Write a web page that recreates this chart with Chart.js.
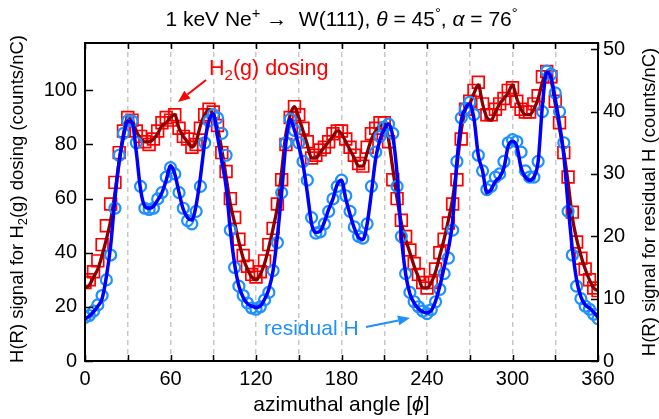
<!DOCTYPE html>
<html>
<head>
<meta charset="utf-8">
<script src="https://cdn.jsdelivr.net/npm/chart.js@4.4.1/dist/chart.umd.min.js"></script>
<style>
  html, body { margin: 0; padding: 0; background: #fff; }
  #wrap { width: 659px; height: 419px; }
</style>
</head>
<body>
<div id="wrap"><canvas id="azChart" width="659" height="419"></canvas></div>
<script>
  // azimuthal angle (deg)
  const angles = [
    0, 3, 6, 9, 12, 15, 18, 21, 24, 27,
    30, 33, 36, 39, 42, 45, 48, 51, 54, 57,
    60, 63, 66, 69, 72, 75, 78, 81, 84, 87,
    90, 93, 96, 99, 102, 105, 108, 111, 114, 117,
    120, 123, 126, 129, 132, 135, 138, 141, 144, 147,
    150, 153, 156, 159, 162, 165, 168, 171, 174, 177,
    180, 183, 186, 189, 192, 195, 198, 201, 204, 207,
    210, 213, 216, 219, 222, 225, 228, 231, 234, 237,
    240, 243, 246, 249, 252, 255, 258, 261, 264, 267,
    270, 273, 276, 279, 282, 285, 288, 291, 294, 297,
    300, 303, 306, 309, 312, 315, 318, 321, 324, 327,
    330, 333, 336, 339, 342, 345, 348, 351, 354, 357,
    360
  ];

  // H(R) signal, H2(g) dosing (left axis) - measured
  const h2Dosing = [
    29, 30, 33, 37, 43, 50, 58, 66, 77, 85,
    90, 89, 85, 83, 81, 80, 82, 85, 88, 90,
    89, 91, 86, 83, 82, 79, 80, 86, 91, 93,
    92, 87, 77, 70, 60, 53, 45, 39, 35, 32,
    31, 33, 37, 43, 49, 58, 67, 80, 90, 94,
    91, 86, 81, 75, 76, 78, 79, 81, 84, 85,
    85, 82, 79, 76, 73, 72, 79, 84, 86, 88,
    88, 81, 67, 60, 52, 46, 41, 36, 32, 29,
    27, 29, 34, 40, 45, 51, 58, 67, 82, 93,
    96, 100, 103, 95, 91, 91, 93, 95, 97, 100,
    101, 96, 93, 92, 92, 95, 98, 105, 107, 105,
    96, 88, 77, 68, 55, 44, 38, 34, 30, 27,
    26
  ];

  // H2(g) dosing, smoothed curve
  const h2Fit = [
    27, 28, 31, 34, 39, 45, 52, 62, 74, 84,
    90, 89, 85, 82, 81, 81, 82, 84, 87, 88,
    90, 91, 86, 83, 81, 79, 81, 87, 91, 93,
    91, 86, 78, 68, 58, 51, 44, 38, 34, 31,
    30, 32, 36, 42, 49, 57, 70, 84, 91, 94,
    90, 85, 80, 75, 75, 77, 79, 81, 83, 85,
    84, 81, 78, 75, 72, 72, 77, 82, 85, 87,
    88, 82, 71, 60, 51, 45, 40, 35, 31, 27,
    27, 29, 33, 39, 45, 52, 60, 72, 85, 93,
    95, 99, 102, 95, 90, 89, 92, 95, 97, 99,
    102, 97, 93, 91, 91, 93, 97, 103, 107, 104,
    95, 86, 77, 66, 53, 45, 39, 34, 30, 27,
    26
  ];

  // H(R) signal, residual H (right axis) - measured
  const residualH = [
    7, 7.3, 8, 9, 10.5, 13, 17, 24.5, 33, 36.5,
    38.5, 38.5, 35, 28, 24.5, 24.3, 24.5, 26, 27, 29.5,
    31, 30, 27, 24.5, 22.5, 22, 24, 28, 35, 38.5,
    39.5, 39, 36.5, 33, 21, 15, 12, 10.5, 9.3, 8.5,
    8.3, 8.7, 9.8, 11, 14.5, 19, 27, 35, 38.8, 37,
    35, 32, 29, 23, 20.5, 20.7, 22, 24, 26, 28,
    29, 26.5, 24, 21.5, 20, 19.7, 22, 28, 33.5, 36,
    37.5, 38, 36.5, 28, 20, 14, 11, 9.5, 8.7, 8,
    7.6, 8.2, 9.5, 11.5, 14, 16.5, 21, 32, 39, 40.5,
    41.5, 39.5, 33, 30.5, 27.5, 28, 29.5, 30, 32, 35,
    35.5, 35.2, 33.5, 30.5, 29.5, 29.5, 32, 40, 46.5, 46,
    43, 40, 35, 24, 17, 12, 10, 8.8, 8.3, 7.5,
    6.8
  ];

  // residual H, smoothed curve
  const residualFit = [
    6.8, 7.2, 7.9, 8.8, 10, 13.5, 18.5, 26, 32, 36,
    38.5, 38.3, 33.5, 27.5, 24.8, 24.5, 24.8, 25.8, 27, 29,
    31.3, 30, 27, 24.3, 23, 22.6, 25, 29.5, 35, 38.5,
    39.6, 36, 32, 28, 21, 15.5, 12, 10.2, 9.2, 8.8,
    8.6, 8.8, 9.9, 11.5, 14.5, 20, 27, 35, 38.8, 37,
    34.5, 31.5, 27, 22, 20.6, 20.8, 22.3, 24.3, 26, 28.3,
    29, 26, 23.5, 21.3, 19.8, 19.5, 22, 27, 32.5, 35.5,
    37.2, 38, 36, 30, 20, 14, 10.8, 9.3, 8.4, 7.9,
    7.7, 8.1, 9.6, 12, 15, 18, 22.5, 32, 38.5, 40.5,
    41.2, 38.8, 33, 30.5, 27, 27.5, 28.8, 29.5, 31, 34.5,
    35.2, 34.5, 31, 29.5, 29, 29.5, 32, 41, 46.3, 45.5,
    42, 38, 33, 25, 18, 13, 10.3, 9, 8.5, 7.8,
    7
  ];

  const FONT = '"Liberation Sans", Arial, Helvetica, sans-serif';
  const RED = "#ff0000";
  const DARKRED = "#8b0000";
  const LIGHTBLUE = "#1e90ff";
  const BLUE = "#0000ff";

  function toPoints(ys) {
    return angles.map((a, i) => ({ x: a, y: ys[i] }));
  }

  // draw a string made of runs: n = normal, i = italic, sup, sub
  function drawRuns(ctx, runs, x, y, size, color, align) {
    const fontFor = (r) => {
      const s = r.s === "sup" || r.s === "sub" ? size * 0.7 : size;
      return (r.s === "i" ? "italic " : "") + s + "px " + FONT;
    };
    let total = 0;
    runs.forEach((r) => {
      ctx.font = fontFor(r);
      total += ctx.measureText(r.t).width;
    });
    let cx = align === "center" ? x - total / 2 : x;
    ctx.fillStyle = color;
    ctx.textAlign = "left";
    ctx.textBaseline = "alphabetic";
    runs.forEach((r) => {
      ctx.font = fontFor(r);
      let dy = 0;
      if (r.s === "sup") dy = -size * 0.38;
      if (r.s === "sub") dy = size * 0.22;
      ctx.fillText(r.t, cx, y + dy);
      cx += ctx.measureText(r.t).width;
    });
  }

  function arrow(ctx, x1, y1, x2, y2, color) {
    const ang = Math.atan2(y2 - y1, x2 - x1);
    const len = 12, half = 5;
    const bx = x2 - len * Math.cos(ang), by = y2 - len * Math.sin(ang);
    ctx.strokeStyle = color;
    ctx.fillStyle = color;
    ctx.lineWidth = 2;
    ctx.beginPath();
    ctx.moveTo(x1, y1);
    ctx.lineTo(bx, by);
    ctx.stroke();
    ctx.beginPath();
    ctx.moveTo(x2, y2);
    ctx.lineTo(bx + half * Math.sin(ang), by - half * Math.cos(ang));
    ctx.lineTo(bx - half * Math.sin(ang), by + half * Math.cos(ang));
    ctx.closePath();
    ctx.fill();
  }

  const decor = {
    id: "decor",
    afterDraw(chart) {
      const { ctx, chartArea: a, scales } = chart;
      ctx.save();

      // frame + inward ticks
      ctx.strokeStyle = "#000";
      ctx.lineWidth = 1.5;
      ctx.beginPath();
      scales.x.ticks.forEach((t) => {
        const px = Math.round(scales.x.getPixelForValue(t.value)) + 0.5;
        ctx.moveTo(px, a.bottom); ctx.lineTo(px, a.bottom - 6);
        ctx.moveTo(px, a.top); ctx.lineTo(px, a.top + 6);
      });
      scales.y.ticks.forEach((t) => {
        const py = Math.round(scales.y.getPixelForValue(t.value)) + 0.5;
        ctx.moveTo(a.left, py); ctx.lineTo(a.left + 8, py);
      });
      scales.y2.ticks.forEach((t) => {
        const py = Math.round(scales.y2.getPixelForValue(t.value)) + 0.5;
        ctx.moveTo(a.right, py); ctx.lineTo(a.right - 7, py);
      });
      ctx.stroke();
      ctx.lineWidth = 2;
      ctx.strokeRect(a.left, a.top, a.right - a.left, a.bottom - a.top);

      // title
      drawRuns(ctx, [
        { t: "1 keV Ne" }, { t: "+", s: "sup" }, { t: " \u2192  W(111), " },
        { t: "\u03b8", s: "i" }, { t: " = 45" }, { t: "\u00b0", s: "sup" },
        { t: ", " }, { t: "\u03b1", s: "i" }, { t: " = 76" }, { t: "\u00b0", s: "sup" }
      ], (a.left + a.right) / 2, 26, 21, "#000", "center");

      // x title
      drawRuns(ctx, [{ t: "azimuthal angle [" }, { t: "\u03d5", s: "i" }, { t: "]" }],
        (a.left + a.right) / 2, 411, 21, "#000", "center");

      // left title
      ctx.save();
      ctx.translate(23, (a.top + a.bottom) / 2 - 3);
      ctx.rotate(-Math.PI / 2);
      drawRuns(ctx, [{ t: "H(R) signal for H" }, { t: "2", s: "sub" }, { t: "(g) dosing (counts/nC)" }],
        0, 0, 18.5, "#000", "center");
      ctx.restore();

      // right title
      ctx.save();
      ctx.translate(655, (a.top + a.bottom) / 2);
      ctx.rotate(-Math.PI / 2);
      drawRuns(ctx, [{ t: "H(R) signal for residual H (counts/nC)" }], 0, 0, 18.5, "#000", "center");
      ctx.restore();

      // annotations
      drawRuns(ctx, [{ t: "H" }, { t: "2", s: "sub" }, { t: "(g) dosing" }], 209, 75, 21.5, RED, "left");
      arrow(ctx, 206, 80, 178, 102, RED);
      drawRuns(ctx, [{ t: "residual H" }], 264, 335, 21, LIGHTBLUE, "left");
      arrow(ctx, 366, 327, 410, 318, LIGHTBLUE);

      ctx.restore();
    }
  };

  new Chart(document.getElementById("azChart").getContext("2d"), {
    type: "scatter",
    data: {
      datasets: [
        {
          label: "residual H fit",
          data: toPoints(residualFit),
          yAxisID: "y2",
          showLine: true,
          borderColor: BLUE,
          borderWidth: 3.5,
          pointRadius: 0,
          cubicInterpolationMode: "monotone",
          order: 0,
        },
        {
          label: "residual H",
          data: toPoints(residualH),
          yAxisID: "y2",
          showLine: false,
          pointStyle: "circle",
          pointRadius: 5.5,
          pointBorderWidth: 2.2,
          pointBorderColor: LIGHTBLUE,
          pointBackgroundColor: "rgba(0,0,0,0)",
          order: 1,
        },
        {
          label: "H2 dosing fit",
          data: toPoints(h2Fit),
          yAxisID: "y",
          showLine: true,
          borderColor: DARKRED,
          borderWidth: 3.3,
          pointRadius: 0,
          cubicInterpolationMode: "monotone",
          order: 2,
        },
        {
          label: "H2(g) dosing",
          data: toPoints(h2Dosing),
          yAxisID: "y",
          showLine: false,
          pointStyle: "rect",
          pointRadius: 8.3,
          pointBorderWidth: 1.7,
          pointBorderColor: RED,
          pointBackgroundColor: "rgba(0,0,0,0)",
          order: 3,
        },
      ],
    },
    options: {
      responsive: false,
      animation: false,
      devicePixelRatio: 1,
      layout: { padding: { top: 43, left: 0, right: 0, bottom: 0 } },
      plugins: { legend: { display: false }, tooltip: { enabled: false } },
      scales: {
        x: {
          type: "linear",
          min: 0,
          max: 360,
          afterFit: (s) => { s.height = 58; },
          ticks: {
            stepSize: 30,
            autoSkip: false,
            maxRotation: 0,
            padding: 6,
            color: "#000",
            font: { family: FONT, size: 20 },
            callback: (v) => (v % 60 === 0 ? v : ""),
          },
          grid: {
            drawTicks: false,
            lineWidth: 1.5,
            color: (c) => (c.tick && (c.tick.value === 0 || c.tick.value === 360) ? "rgba(0,0,0,0)" : "#c8c8c8"),
          },
          border: { display: false, dash: [5, 4] },
        },
        y: {
          position: "left",
          min: 0,
          max: 117.5,
          afterFit: (s) => { s.width = 85; },
          ticks: {
            stepSize: 20,
            includeBounds: false,
            padding: 8,
            color: "#000",
            font: { family: FONT, size: 20 },
          },
          grid: { display: false, drawTicks: false },
          border: { display: false },
        },
        y2: {
          position: "right",
          min: 0,
          max: 51,
          afterFit: (s) => { s.width = 61; },
          ticks: {
            stepSize: 10,
            includeBounds: false,
            padding: 5,
            color: "#000",
            font: { family: FONT, size: 20 },
          },
          grid: { display: false, drawTicks: false },
          border: { display: false },
        },
      },
    },
    plugins: [decor],
  });
</script>
</body>
</html>
